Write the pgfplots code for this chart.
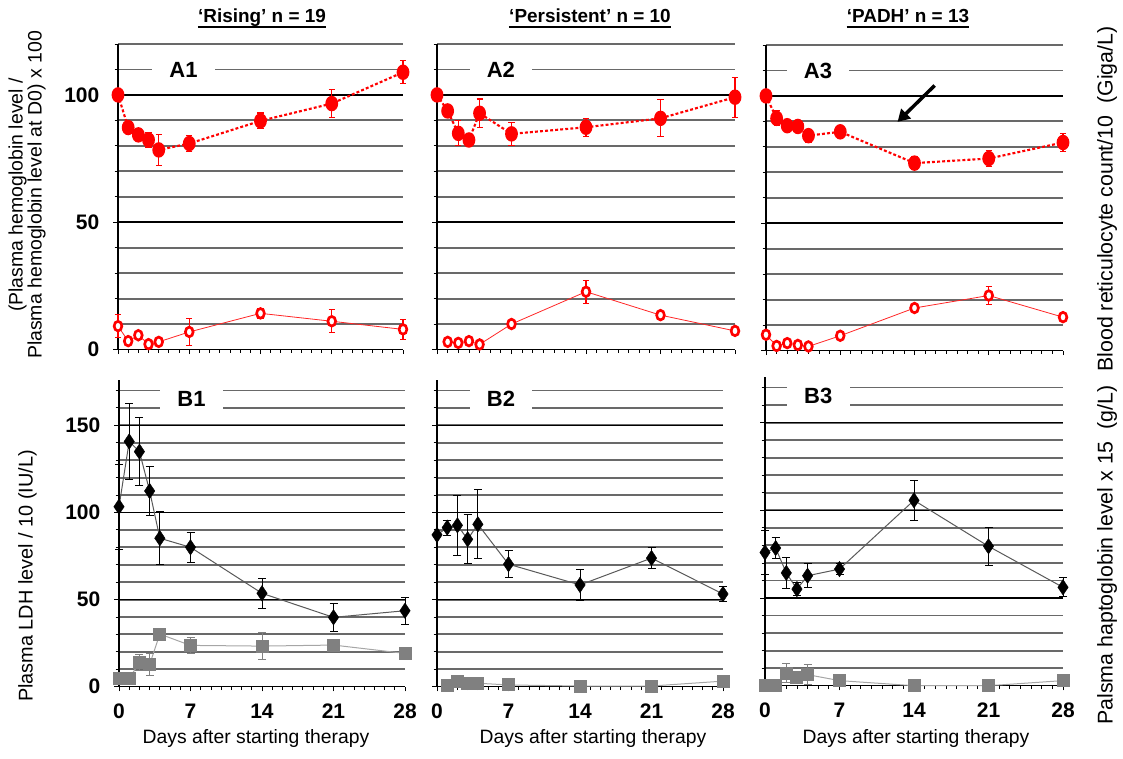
\documentclass[border=0pt]{standalone}
\usepackage{fontspec}
\setmainfont{Liberation Sans}
\usepackage{pgfplots}
\pgfplotsset{compat=1.18}
\usetikzlibrary{arrows.meta}
\definecolor{hbred}{RGB}{255,0,0}
\definecolor{sqgray}{RGB}{128,128,128}
\definecolor{gridgray}{RGB}{105,105,105}
\tikzset{
  plab/.style={fill=white, font=\fontsize{16.5}{16.5}\selectfont\bfseries, minimum width=47pt, inner ysep=2pt},
  blab/.style={fill=white, font=\fontsize{16.5}{16.5}\selectfont\bfseries, minimum width=47pt, minimum height=20pt},
}
\pgfplotsset{
  panel/.style={
    scale only axis, clip=false,
    xmin=0, xmax=28,
    axis x line=bottom, axis y line=left,
    axis line style={-, line width=0.9pt, black},
    xtick={0,7,14,21,28}, minor x tick num=6,
    tick align=outside,
    major tick length=3.5pt, minor tick length=2.5pt,
    every tick/.style={black, line width=0.6pt},
    ymajorgrids, yminorgrids,
    major grid style={black, line width=1.1pt},
    minor grid style={gridgray, line width=1.4pt},
    /pgf/number format/assume math mode=true,
    tick label style={font=\fontsize{15.75}{16}\selectfont\bfseries},
    yticklabel style={xshift=-7pt},
    xticklabel style={yshift=-6pt},
  },
  toprow/.style={panel, ymin=0, ymax=120, ytick={0,50,100}, minor ytick={10,20,...,120}, xticklabels={}},
  botrow/.style={panel, ymin=0, ymax=176, ytick={0,50,100,150}, minor ytick={10,20,...,170}},
  hb/.style={hbred, line width=1.6pt, dash pattern=on 2.2pt off 1.6pt, mark=*, mark size=4pt,
    mark options={solid, fill=hbred, draw=hbred, yscale=1.25},
    error bars/y dir=both, error bars/y explicit,
    error bars/error bar style={solid, line width=0.8pt, hbred},
    error bars/error mark options={rotate=90, mark size=2.3pt, line width=0.8pt, hbred, solid}},
  ret/.style={hbred!85, line width=0.6pt, solid, mark=*, mark size=2.9pt,
    mark options={fill=white, draw=hbred, line width=2pt, yscale=1.25},
    error bars/y dir=both, error bars/y explicit,
    error bars/error bar style={line width=0.8pt, hbred},
    error bars/error mark options={rotate=90, mark size=2.3pt, line width=0.8pt, hbred}},
  ldh/.style={draw=black!65, line width=0.75pt, mark=diamond*, mark size=5.8pt,
    mark options={fill=black, draw=black, line width=0.3pt, xscale=0.9},
    error bars/y dir=both, error bars/y explicit,
    error bars/error bar style={line width=0.75pt, black},
    error bars/error mark options={rotate=90, mark size=3pt, line width=0.75pt, black}},
  hap/.style={draw=black!35, line width=0.75pt, mark=square*, mark size=4.5pt,
    mark options={fill=sqgray, draw=sqgray},
    error bars/y dir=both, error bars/y explicit,
    error bars/error bar style={line width=0.75pt, sqgray},
    error bars/error mark options={rotate=90, mark size=3pt, line width=0.75pt, sqgray}},
}
\begin{document}
\begin{tikzpicture}
\path[use as bounding box] (0,0) rectangle (842.25pt,568.5pt);

% ---------- A1 ----------
\begin{axis}[toprow, at={(88.5pt,306.375pt)}, anchor=south west, width=213.75pt, height=229.125pt]
\addplot[ret] coordinates {(0,9.2) +- (0,4.4) (1,3.3) +- (0,0) (2,5.6) +- (0,0) (3,2.1) +- (0,0) (4,3.0) +- (0,0)
  (7,6.9) +- (0,5.3) (14,14.2) +- (0,2) (21,11.1) +- (0,4.6) (28,7.9) +- (0,4)};
\addplot[hb] coordinates {(0,100) +- (0,0) (1,87.2) +- (0,1.2) (2,84.3) +- (0,1.2) (3,82.3) +- (0,2.9) (4,78.4) +- (0,6.2)
  (7,80.9) +- (0,3) (14,89.8) +- (0,3.1) (21,96.6) +- (0,5.5) (28,108.9) +- (0,4.5)};
\node[plab] at (axis cs:6.43,110) {A1};
\end{axis}

% ---------- A2 ----------
\begin{axis}[toprow, yticklabels={}, at={(327.75pt,306.375pt)}, anchor=south west, width=223.5pt, height=229.125pt]
\addplot[ret] coordinates {(1,3.0) +- (0,0) (2,2.6) +- (0,0) (3,3.3) +- (0,0) (4,2.0) +- (0,0)
  (7,10.0) +- (0,0) (14,22.7) +- (0,4.5) (21,13.5) +- (0,0) (28,7.3) +- (0,0)};
\addplot[hb] coordinates {(0,100) +- (0,0) (1,93.7) +- (0,1.2) (2,84.9) +- (0,4.9) (3,82.3) +- (0,1) (4,92.8) +- (0,5.6)
  (7,84.7) +- (0,4.5) (14,87.3) +- (0,3.6) (21,90.8) +- (0,7.3) (28,99.1) +- (0,7.9)};
\node[plab] at (axis cs:6.0,110) {A2};
\end{axis}

% ---------- A3 ----------
\begin{axis}[toprow, yticklabels={}, at={(574.5pt,305.625pt)}, anchor=south west, width=222.75pt, height=229.125pt]
\addplot[ret] coordinates {(0,6.2) +- (0,0) (1,1.8) +- (0,0) (2,2.9) +- (0,0) (3,2.2) +- (0,0) (4,1.6) +- (0,0)
  (7,5.8) +- (0,0) (14,16.7) +- (0,1.5) (21,21.6) +- (0,3.6) (28,13.1) +- (0,0)};
\addplot[hb] coordinates {(0,100) +- (0,0) (1,91.2) +- (0,3) (2,88.3) +- (0,1.5) (3,88.0) +- (0,1.5) (4,84.4) +- (0,2.5)
  (7,85.9) +- (0,1.5) (14,73.6) +- (0,2.5) (21,75.4) +- (0,3) (28,81.7) +- (0,3.5)};
\node[plab] at (axis cs:4.9,110) {A3};
\draw[line width=2.6pt, -{Triangle[length=9pt, width=10pt]}] (axis cs:15.9,104.1) -- (axis cs:12.4,89.8);
\end{axis}

% ---------- B1 ----------
\begin{axis}[botrow, at={(89.25pt,53.475pt)}, anchor=south west, width=214.5pt, height=230.025pt]
\addplot[hap] coordinates {(0,4.8) +- (0,0) (1,4.8) +- (0,0) (2,13.8) +- (0,4.6) (3,12.8) +- (0,6.5) (4,30.2) +- (0,0)
  (7,23.7) +- (0,4.5) (14,23.3) +- (0,7.7) (21,23.9) +- (0,0) (28,19.1) +- (0,0)};
\addplot[ldh] coordinates {(0,103.3) +- (0,24.4) (1,140.7) +- (0,22) (2,134.9) +- (0,19.3) (3,112.3) +- (0,13.9) (4,85.2) +- (0,15.3)
  (7,80) +- (0,8.5) (14,53.6) +- (0,8.5) (21,39.8) +- (0,8.1) (28,43.6) +- (0,7.8)};
\node[blab] at (axis cs:7.1,165) {B1};
\end{axis}

% ---------- B2 ----------
\begin{axis}[botrow, yticklabels={}, at={(327.75pt,53.475pt)}, anchor=south west, width=214.5pt, height=230.025pt]
\addplot[hap] coordinates {(1,0.5) +- (0,0) (2,2.9) +- (0,0) (3,2.0) +- (0,0) (4,2.0) +- (0,0)
  (7,1.0) +- (0,0) (14,0.4) +- (0,0) (21,0.4) +- (0,0) (28,3.2) +- (0,0)};
\addplot[ldh] coordinates {(0,87.1) +- (0,0) (1,91.3) +- (0,4.3) (2,92.6) +- (0,17.3) (3,84.6) +- (0,14) (4,93.2) +- (0,19.7)
  (7,70.3) +- (0,7.6) (14,58.4) +- (0,8.9) (21,73.8) +- (0,5.8) (28,53.2) +- (0,4.4)};
\node[blab] at (axis cs:6.27,165) {B2};
\end{axis}

% ---------- B3 ----------
\begin{axis}[botrow, yticklabels={}, at={(573.75pt,54.225pt)}, anchor=south west, width=223.5pt, height=231.5pt]
\addplot[hap] coordinates {(0,0) +- (0,0) (1,0) +- (0,0) (2,7.2) +- (0,5.5) (3,4.8) +- (0,2) (4,6.3) +- (0,5.7)
  (7,2.9) +- (0,0) (14,0) +- (0,0) (21,0) +- (0,0) (28,2.9) +- (0,0)};
\addplot[ldh] coordinates {(0,76) +- (0,12.6) (1,78.5) +- (0,5.8) (2,64.3) +- (0,8.6) (3,55.1) +- (0,3.6) (4,62.7) +- (0,6.7)
  (7,66.5) +- (0,3.1) (14,105.7) +- (0,11.4) (21,79.5) +- (0,10.9) (28,56.1) +- (0,5.4)};
\node[blab] at (axis cs:5.0,165) {B3};
\end{axis}

% ---------- titles ----------
\begin{scope}[every node/.style={inner sep=0pt, anchor=base, font=\fontsize{14.2}{14.2}\selectfont\bfseries}]
\node (t1) at (196.5pt,551.25pt) {‘Rising’ n = 19};
\node (t2) at (442.5pt,551.25pt) {‘Persistent’ n = 10};
\node (t3) at (681pt,551.25pt) {‘PADH’ n = 13};
\end{scope}
\foreach \t in {t1,t2,t3}{\draw[line width=1.4pt] ([yshift=-3.3pt]\t.base west) -- ([yshift=-3.3pt]\t.base east);}

% ---------- x labels ----------
\begin{scope}[every node/.style={inner sep=0pt, anchor=base, font=\fontsize{14.5}{14.5}\selectfont}]
\node at (192pt,11.25pt) {Days after starting therapy};
\node at (444.75pt,11.25pt) {Days after starting therapy};
\node at (687pt,11.25pt) {Days after starting therapy};
\end{scope}

% ---------- y labels ----------
\node[rotate=90, align=center, inner sep=0pt, font=\fontsize{14.6}{14.3}\selectfont] at (20.25pt,422.25pt)
  {(Plasma hemoglobin level /\\Plasma hemoglobin level at D0) x 100};
\node[rotate=90, inner sep=0pt, font=\fontsize{14.9}{15}\selectfont] at (20.6pt,136.5pt) {Plasma LDH level / 10 (IU/L)};
\node[rotate=90, inner sep=0pt, font=\fontsize{16}{16}\selectfont] at (830.25pt,419.25pt) {Blood reticulocyte count/10\ \ (Giga/L)};
\node[rotate=90, inner sep=0pt, font=\fontsize{16}{16}\selectfont] at (830.25pt,152.25pt) {Palsma haptoglobin level x 15\ \ (g/L)};
\end{tikzpicture}
\end{document}
